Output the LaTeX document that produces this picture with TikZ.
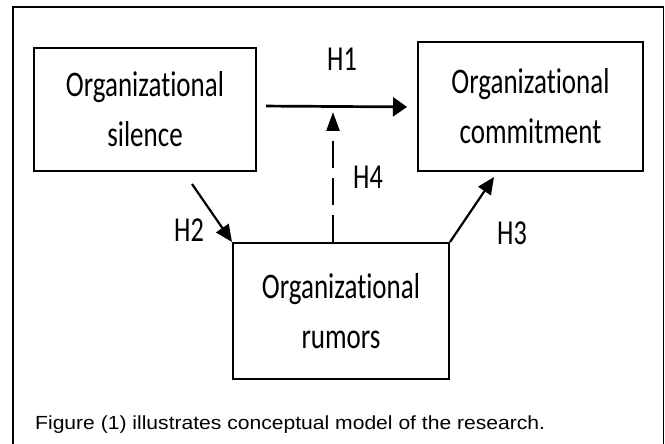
\documentclass[tikz,border=0pt]{standalone}
\usepackage{fontspec}
\usetikzlibrary{arrows.meta}
\newfontfamily\boxfont[FakeStretch=0.75,Ligatures=NoCommon]{Carlito}
\newfontfamily\capfont[FakeStretch=1.11]{Liberation Sans}
\begin{document}
\begin{tikzpicture}[x=1pt,y=-1pt,
  box/.style={draw, line width=2pt, inner sep=0pt, align=center,
    font=\boxfont\fontsize{36}{50}\selectfont},
  hlabel/.style={inner sep=0pt, font=\boxfont\fontsize{35}{40}\selectfont},
  conn/.style={line width=2.2pt, -{Triangle[length=17pt,width=15pt]}}
]
\useasboundingbox (0,0) rectangle (665,444);
% outer frame (open at the bottom)
\draw[line width=1.5pt] (13,444) -- (13,7) -- (663.5,7) -- (663.5,444);

% boxes
\node[box, minimum width=222pt, minimum height=123pt] (s) at (145,109.5)
  {Organizational\\silence};
\node[box, minimum width=225pt, minimum height=129pt] (c) at (530.5,106.5)
  {Organizational\\commitment};
\node[box, minimum width=216pt, minimum height=136pt] (r) at (341,311)
  {Organizational\\rumors};

% free ends
\coordinate (h2s) at (192,184);
\coordinate (h3e) at (494,177);
\coordinate (m) at (333,106);

% connectors
\draw[line width=2.7pt, -{Triangle[length=14pt,width=19pt]},
      shorten <=9pt, shorten >=10pt]
  ([yshift=3.5pt]s.east) -- ([yshift=-0.5pt]c.west);
\draw[line width=2.5pt, dash pattern=on 27pt off 10pt,
      -{Triangle[length=19pt,width=13pt]}, shorten >=6pt]
  ([xshift=-8pt]r.north) -- (m);
\draw[conn] (h2s) -- (r.north west);
\draw[conn] (r.north east) -- (h3e);

% labels
\node[hlabel] (l1) at (342,59) {H1};
\node[hlabel] (l2) at (189,230) {H2};
\node[hlabel] (l3) at (512,233) {H3};
\node[hlabel] (l4) at (368,177) {H4};

% caption
\node[anchor=base west, inner sep=0pt, font=\capfont\fontsize{19}{22}\selectfont]
  (cap) at (35,429) {Figure (1) illustrates conceptual model of the research.};
\end{tikzpicture}
\end{document}
